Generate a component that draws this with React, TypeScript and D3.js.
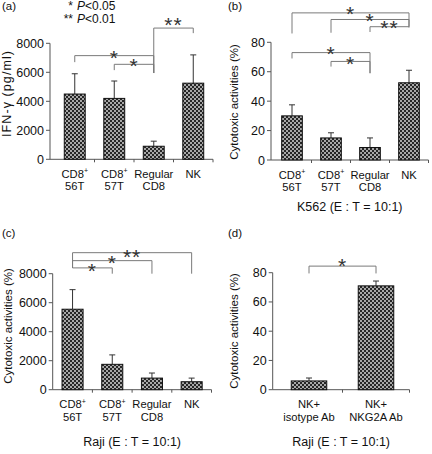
import React from "react";
import * as d3 from "d3";

// ---------- data ----------
const cellTypes = ["CD8^+|56T", "CD8^+|57T", "Regular|CD8", "NK"];
const ifnMean = [4500, 4200, 900, 5250];
const ifnSD = [1400, 1200, 350, 1950];
const k562Mean = [30, 15, 8.5, 52.5];
const k562SD = [7.5, 3.5, 6.5, 8.5];
const rajiMean = [5550, 1750, 800, 550];
const rajiSD = [1350, 650, 350, 250];
const blockGroups = ["NK+|isotype Ab", "NK+|NKG2A Ab"];
const blockMean = [6, 71];
const blockSD = [2, 3.3];
const ifnTicks = [0, 2000, 4000, 6000, 8000];
const pctTicks = [0, 20, 40, 60, 80];
const legendMarks = ["*", "**"];
const legendTexts = ["<0.05", "<0.01"];

type Bracket = {
  from: number;
  to: number;
  level: number;
  legFrom: number;
  legTo: number;
  mark: string;
  markAt: number;
};

const ifnBrackets: Bracket[] = [
  { from: 2, to: 3, level: 9050, legFrom: 5950, legTo: 8700, mark: "**", markAt: 9600 },
  { from: 0, to: 2, level: 7150, legFrom: 6700, legTo: 5950, mark: "*", markAt: 7350 },
  { from: 1, to: 2, level: 6550, legFrom: 6150, legTo: 5950, mark: "*", markAt: 6780 },
];
const k562Brackets: Bracket[] = [
  { from: 0, to: 3, level: 100, legFrom: 86, legTo: 90.6, mark: "*", markAt: 103 },
  { from: 1, to: 3, level: 95.5, legFrom: 86.5, legTo: 90.6, mark: "*", markAt: 98 },
  { from: 2, to: 3, level: 90.6, legFrom: 87, legTo: 90, mark: "**", markAt: 93 },
  { from: 0, to: 2, level: 73, legFrom: 69, legTo: 59, mark: "*", markAt: 75.5 },
  { from: 1, to: 2, level: 67, legFrom: 63.5, legTo: 59, mark: "*", markAt: 69.1 },
];
const rajiBrackets: Bracket[] = [
  { from: 0, to: 3, level: 9450, legFrom: 8400, legTo: 8000, mark: "**", markAt: 9500 },
  { from: 0, to: 2, level: 8900, legFrom: 8400, legTo: 8000, mark: "*", markAt: 9080 },
  { from: 0, to: 1, level: 8400, legFrom: 8400, legTo: 8000, mark: "*", markAt: 8530 },
];
const blockBrackets: Bracket[] = [
  { from: 0, to: 1, level: 84.5, legFrom: 79.5, legTo: 79.5, mark: "*", markAt: 88 },
];

// ---------- styles ----------
const FONT = "'Liberation Sans', Arial, Helvetica, sans-serif";
const AXIS = "#555";
const BRACKET = "#7a7a7a";
const INK = "#111";

type PanelProps = {
  title: string;
  titleX: number;
  titleY: number;
  cats: string[];
  mean: number[];
  sd: number[];
  ticks: number[];
  domain: [number, number];
  axisX: number;
  yBottom: number;
  yTop: number;
  xStart: number;
  xEnd: number;
  yLabel: string;
  yLabelX: number;
  yLabelY: number;
  yLabelSize?: number;
  yLabelLength?: number;
  caption?: string;
  captionY?: number;
  brackets: Bracket[];
};

function CatLine({ text, x, y }: { text: string; x: number; y: number }) {
  const parts = text.split("^");
  return (
    <text x={x} y={y} textAnchor="middle" fontSize={11.2} fontFamily={FONT} fill={INK}>
      {parts[0]}
      {parts[1] ? (
        <tspan fontSize={7} dy={-4.5}>
          {parts[1]}
        </tspan>
      ) : null}
    </text>
  );
}

function Panel(p: PanelProps) {
  const y = d3.scaleLinear().domain(p.domain).range([p.yBottom, p.yTop]);
  const x = d3
    .scaleBand<number>()
    .domain(d3.range(p.cats.length))
    .range([p.xStart, p.xEnd])
    .paddingInner(0.47)
    .paddingOuter(0.235);
  const bw = x.bandwidth();
  const cx = (i: number) => (x(i) as number) + bw / 2;
  const step = x.step();
  const boundaries = d3.range(1, p.cats.length + 1).map((i) => p.xStart + i * step);
  const starSize = 21;

  return (
    <g>
      <text x={p.titleX} y={p.titleY} fontSize={11.5} fontFamily={FONT} fill={INK}>
        {p.title}
      </text>
      {/* y label */}
      <text
        transform={`translate(${p.yLabelX},${p.yLabelY}) rotate(-90)`}
        textAnchor="middle"
        fontSize={p.yLabelSize ?? 11.5}
        fontFamily={FONT}
        fill={INK}
        textLength={p.yLabelLength}
        lengthAdjust={p.yLabelLength ? "spacing" : undefined}
      >
        {p.yLabel}
      </text>
      {/* y axis */}
      <line x1={p.axisX} x2={p.axisX} y1={y(p.domain[1])} y2={y(0)} stroke={AXIS} strokeWidth={1} />
      {p.ticks.map((t) => (
        <g key={t}>
          <line x1={p.axisX - 4} x2={p.axisX} y1={y(t)} y2={y(t)} stroke={AXIS} />
          <text
            x={p.axisX - 6}
            y={y(t) + 4.5}
            textAnchor="end"
            fontSize={12.5}
            fontFamily={FONT}
            fill={INK}
          >
            {t}
          </text>
        </g>
      ))}
      {/* x axis */}
      <line x1={p.axisX} x2={p.xEnd} y1={y(0)} y2={y(0)} stroke={AXIS} />
      {boundaries.map((b, i) => (
        <line key={i} x1={b} x2={b} y1={y(0)} y2={y(0) + 3} stroke={AXIS} />
      ))}
      {/* bars */}
      {p.mean.map((m, i) => (
        <g key={i}>
          <line
            x1={cx(i)}
            x2={cx(i)}
            y1={y(m)}
            y2={y(m + p.sd[i])}
            stroke="#333"
            strokeWidth={1}
          />
          <line
            x1={cx(i) - 3}
            x2={cx(i) + 3}
            y1={y(m + p.sd[i])}
            y2={y(m + p.sd[i])}
            stroke="#333"
            strokeWidth={1}
          />
          <rect
            x={x(i)}
            y={y(m)}
            width={bw}
            height={y(0) - y(m)}
            fill="url(#checker)"
            stroke="#111"
            strokeWidth={1}
          />
        </g>
      ))}
      {/* category labels */}
      {p.cats.map((c, i) => {
        const lines = c.split("|");
        return (
          <g key={i}>
            <CatLine text={lines[0]} x={cx(i)} y={y(0) + 18.5} />
            {lines[1] ? <CatLine text={lines[1]} x={cx(i)} y={y(0) + 31} /> : null}
          </g>
        );
      })}
      {p.caption ? (
        <text
          x={(p.axisX + p.xEnd) / 2}
          y={p.captionY}
          textAnchor="middle"
          fontSize={12.5}
          fontFamily={FONT}
          fill={INK}
        >
          {p.caption}
        </text>
      ) : null}
      {/* significance brackets */}
      {p.brackets.map((b, i) => {
        const x1 = cx(b.from);
        const x2 = cx(b.to);
        const yl = y(b.level);
        return (
          <g key={i}>
            <path
              d={`M${x1},${y(b.legFrom)}V${yl}H${x2}V${y(b.legTo)}`}
              fill="none"
              stroke={BRACKET}
              strokeWidth={1}
            />
            <text
              x={(x1 + x2) / 2}
              y={y(b.markAt) + starSize * 0.58}
              textAnchor="middle"
              fontSize={starSize}
              fontFamily={FONT}
              fill="#333"
              letterSpacing={1}
            >
              {b.mark}
            </text>
          </g>
        );
      })}
    </g>
  );
}

export default function App() {
  return (
    <svg
      width={432}
      height={454}
      style={{ position: "absolute", left: 0, top: 0, background: "#fff" }}
    >
      <defs>
        <pattern id="checker" patternUnits="userSpaceOnUse" width={4} height={4}>
          <rect width={4} height={4} fill="#262626" />
          <rect x={0} y={0} width={2} height={2} fill="#a8a8a8" />
          <rect x={2} y={2} width={2} height={2} fill="#a8a8a8" />
        </pattern>
      </defs>
      <rect width={432} height={454} fill="#fff" />
      {/* legend */}
      {legendMarks.map((m, i) => (
        <g key={i}>
          <text x={73} y={10 + i * 13} textAnchor="end" fontSize={12} fontFamily={FONT} fill={INK}>
            {m}
          </text>
          <text x={77} y={10 + i * 13} fontSize={12} fontFamily={FONT} fill={INK}>
            <tspan fontStyle="italic">P</tspan>
            {legendTexts[i]}
          </text>
        </g>
      ))}
      <Panel
        title="(a)"
        titleX={2}
        titleY={10}
        cats={cellTypes}
        mean={ifnMean}
        sd={ifnSD}
        ticks={ifnTicks}
        domain={[0, 8000]}
        axisX={50}
        yBottom={159.3}
        yTop={43.3}
        xStart={55}
        xEnd={213}
        yLabel="IFN-γ (pg/ml)"
        yLabelX={10.5}
        yLabelY={94}
        yLabelSize={12.5}
        yLabelLength={86}
        brackets={ifnBrackets}
      />
      <Panel
        title="(b)"
        titleX={228}
        titleY={10}
        cats={cellTypes}
        mean={k562Mean}
        sd={k562SD}
        ticks={pctTicks}
        domain={[0, 80]}
        axisX={271}
        yBottom={160}
        yTop={42.3}
        xStart={272.5}
        xEnd={428.5}
        yLabel="Cytotoxic activities (%)"
        yLabelX={238}
        yLabelY={102}
        caption="K562 (E : T = 10:1)"
        captionY={211}
        brackets={k562Brackets}
      />
      <Panel
        title="(c)"
        titleX={2}
        titleY={236.5}
        cats={cellTypes}
        mean={rajiMean}
        sd={rajiSD}
        ticks={ifnTicks}
        domain={[0, 8000]}
        axisX={52.7}
        yBottom={389.7}
        yTop={273.7}
        xStart={52.7}
        xEnd={211.5}
        yLabel="Cytotoxic activities (%)"
        yLabelX={11.5}
        yLabelY={326}
        caption="Raji (E : T = 10:1)"
        captionY={445.5}
        brackets={rajiBrackets}
      />
      <Panel
        title="(d)"
        titleX={228}
        titleY={236.5}
        cats={blockGroups}
        mean={blockMean}
        sd={blockSD}
        ticks={pctTicks}
        domain={[0, 80]}
        axisX={272.7}
        yBottom={389.7}
        yTop={272.7}
        xStart={275.5}
        xEnd={409.5}
        yLabel="Cytotoxic activities (%)"
        yLabelX={238}
        yLabelY={331}
        caption="Raji (E : T = 10:1)"
        captionY={445.5}
        brackets={blockBrackets}
      />
    </svg>
  );
}
